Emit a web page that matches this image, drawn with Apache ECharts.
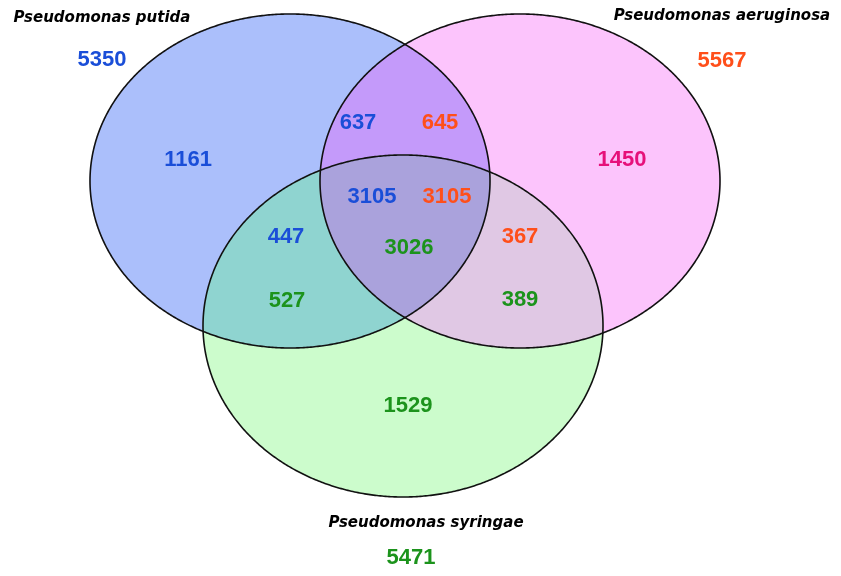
<!DOCTYPE html>
<html><head><meta charset="utf-8">
<script src="https://cdn.jsdelivr.net/npm/echarts@6/dist/echarts.min.js"></script>
<style>html,body{margin:0;padding:0;background:#fff}#c{width:841px;height:576px}</style>
</head><body><div id="c"></div>
<script>
// ---- data ----
const setNames = ['Pseudomonas putida', 'Pseudomonas aeruginosa', 'Pseudomonas syringae'];
const setTotals = [5350, 5567, 5471];
// region counts (each number shown in the diagram), with the species whose colour it uses
const countValues  = [1161, 1450, 1529, 637, 645, 3105, 3105, 3026, 447, 527, 367, 389];
const countSpecies = ['putida', 'aeruginosaOnly', 'syringae', 'putida', 'aeruginosa', 'putida', 'aeruginosa', 'syringae', 'putida', 'syringae', 'aeruginosa', 'syringae'];

// ---- layout (positions / sizes / styles) ----
const ellipses = [
  {cx: 290, cy: 181, rx: 200, ry: 167},
  {cx: 520, cy: 181, rx: 200, ry: 167},
  {cx: 403, cy: 326, rx: 200, ry: 171}
];
const regionSets = [[0], [1], [2], [0, 1], [0, 2], [1, 2], [0, 1, 2]];
const regionFill = ['#abbffb', '#fcc4fc', '#ccfccc', '#c49afa', '#8fd4d0', '#e0c8e4', '#aaa2dc'];
const countPos = [[188, 160], [622, 160], [408, 406], [358, 123], [440, 123], [372, 197], [447, 197], [409, 248], [286, 237], [287, 301], [520, 237], [520, 300]];
const titlePos = [[102, 18], [722, 16], [426, 523]];
const totalPos = [[102, 60], [722, 61], [411, 558]];
const speciesColor = {putida: '#1a4ed8', aeruginosa: '#ff4f1a', aeruginosaOnly: '#e6107a', syringae: '#1c931c'};
const totalSpecies = ['putida', 'aeruginosa', 'syringae'];

function ellipsePts(e, n) {
  const p = [];
  for (let i = 0; i < n; i++) {
    const t = 2 * Math.PI * i / n;
    p.push([e.cx + e.rx * Math.cos(t), e.cy + e.ry * Math.sin(t)]);
  }
  return p;
}
function inside(p, e) {
  const dx = (p[0] - e.cx) / e.rx, dy = (p[1] - e.cy) / e.ry;
  return dx * dx + dy * dy <= 1 + 1e-9;
}
function regionPoly(idxs) {
  if (idxs.length === 1) return ellipsePts(ellipses[idxs[0]], 720);
  let pts = [];
  idxs.forEach(i => {
    ellipsePts(ellipses[i], 2880).forEach(p => {
      if (idxs.every(j => j === i || inside(p, ellipses[j]))) pts.push(p);
    });
  });
  let cx = 0, cy = 0;
  pts.forEach(p => { cx += p[0]; cy += p[1]; });
  cx /= pts.length; cy /= pts.length;
  pts.sort((a, b) => Math.atan2(a[1] - cy, a[0] - cx) - Math.atan2(b[1] - cy, b[0] - cx));
  return pts;
}

const chart = echarts.init(document.getElementById('c'), null, {renderer: 'canvas'});

const numFont = {fontSize: 22, fontWeight: 'bold', fontFamily: '"Liberation Sans", Arial, sans-serif', textBorderWidth: 0, textBorderColor: 'transparent', opacity: 1};
const labelData = [];
countValues.forEach((v, i) => {
  labelData.push({value: [countPos[i][0], countPos[i][1]], name: String(v),
    label: Object.assign({color: speciesColor[countSpecies[i]]}, numFont)});
});
setTotals.forEach((v, i) => {
  labelData.push({value: [totalPos[i][0], totalPos[i][1]], name: String(v),
    label: Object.assign({color: speciesColor[totalSpecies[i]]}, numFont)});
});
setNames.forEach((n, i) => {
  labelData.push({value: [titlePos[i][0], titlePos[i][1]], name: n,
    label: {color: '#000', fontSize: 15, fontWeight: 'bold', fontStyle: 'italic', fontFamily: '"DejaVu Sans", sans-serif', textBorderWidth: 0, textBorderColor: 'transparent', opacity: 1}});
});

chart.setOption({
  animation: false,
  backgroundColor: '#ffffff',
  grid: {left: 0, right: 0, top: 0, bottom: 0},
  xAxis: {type: 'value', min: 0, max: 841, show: false},
  yAxis: {type: 'value', min: 0, max: 576, inverse: true, show: false},
  series: [
    {
      type: 'custom', z: 1,
      data: regionSets.map((s, i) => [i]),
      renderItem: function (params, api) {
        const i = api.value(0);
        const pts = regionPoly(regionSets[i]).map(p => api.coord(p));
        return {type: 'polygon', shape: {points: pts}, style: {fill: regionFill[i], stroke: regionFill[i], lineWidth: 0.6}};
      }
    },
    {
      type: 'custom', z: 2,
      data: ellipses.map((e, i) => [i]),
      renderItem: function (params, api) {
        const i = api.value(0);
        const pts = ellipsePts(ellipses[i], 720).map(p => api.coord(p));
        return {type: 'polygon', shape: {points: pts}, style: {fill: 'none', stroke: '#111', lineWidth: 1.6}};
      }
    },
    {
      type: 'scatter', z: 3,
      symbolSize: 1,
      itemStyle: {opacity: 0},
      data: labelData,
      label: {show: true, position: 'inside', formatter: p => p.name, align: 'center', verticalAlign: 'middle'},
      emphasis: {disabled: true}
    }
  ]
});
</script>
</body></html>
